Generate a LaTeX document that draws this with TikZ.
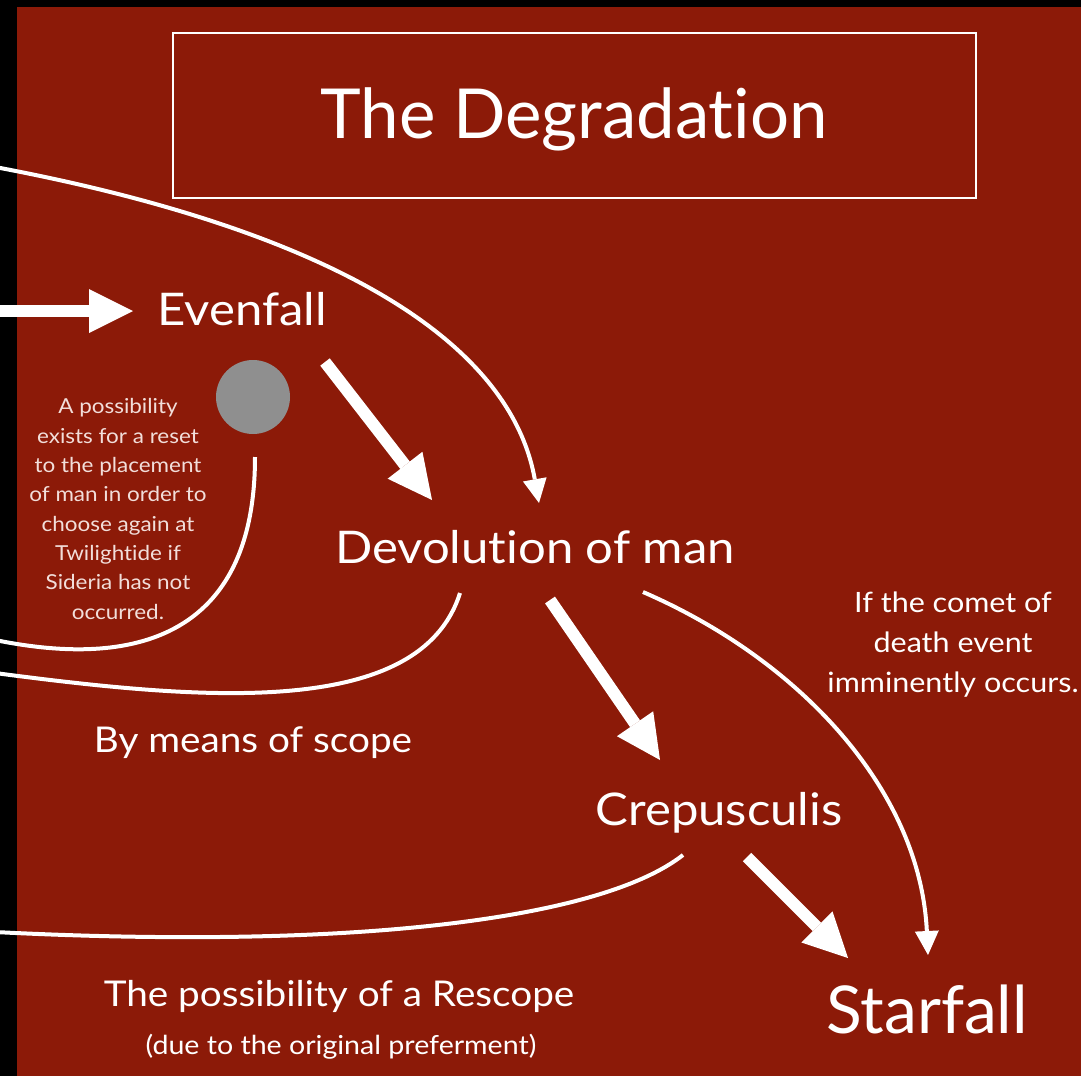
\documentclass[tikz,border=0pt]{standalone}
\usepackage{fontspec}
\setmainfont{Lato}[FakeStretch=1.09, Ligatures=NoCommon]
\newfontfamily\plainlato{Lato}[Ligatures=NoCommon]
\usetikzlibrary{arrows.meta}
\definecolor{bgred}{RGB}{140,26,8}
\definecolor{dotgray}{RGB}{143,143,143}
\definecolor{paletext}{RGB}{242,222,218}
\tikzset{
  lbl/.style={text=white, inner sep=0pt, anchor=base},
  thickarrow/.style={draw=white, line width=12pt, -{Triangle[length=44pt,width=44pt,line width=0pt]}},
  thinarrow/.style={draw=white, line width=4pt, -{Triangle[length=24pt,width=24pt,line width=0pt]}},
  thinline/.style={draw=white, line width=4pt},
}
\begin{document}
\begin{tikzpicture}[x=1pt,y=-1pt]
\useasboundingbox (0,0) rectangle (1081,1076);
\fill[black] (0,0) rectangle (1081,1076);
\fill[bgred] (17,7) rectangle (1081,1076);

% title
\node[draw=white, line width=2pt, minimum width=803pt, minimum height=165pt, inner sep=0pt] (titlebox) at (574.5,115.5) {};
\node[lbl, font=\plainlato\fontsize{69}{74}\selectfont] (title) at (574,138) {The Degradation};

% main nodes
\node[lbl, font=\fontsize{45}{50}\selectfont] (evenfall) at (242,325) {Evenfall};
\node[lbl, font=\fontsize{45}{50}\selectfont] (devolution) at (535,563) {Devolution of man};
\node[lbl, font=\fontsize{45}{50}\selectfont] (crep) at (719,825) {Crepusculis};
\node[lbl, font=\plainlato\fontsize{66}{70}\selectfont] (starfall) at (927,1033) {Starfall};

\node[lbl, font=\fontsize{35.5}{40}\selectfont] (scope) at (253,752) {By means of scope};
\node[lbl, font=\fontsize{35.5}{40}\selectfont] (rescope) at (339,1006) {The possibility of a Rescope};
\node[lbl, font=\fontsize{26.2}{30}\selectfont] (pref) at (341,1054) {(due to the original preferment)};

\node[text=white, inner sep=0pt, align=center, font=\fontsize{28}{40}\selectfont] (comet) at (953,645)
  {If the comet of\\ death event\\ imminently occurs.};

\node[text=paletext, inner sep=0pt, align=center, font=\fontsize{20.6}{29.3}\selectfont] (reset) at (118,509)
  {A possibility\\ exists for a reset\\ to the placement\\ of man in order to\\ choose again at\\ Twilightide if\\ Sideria has not\\ occurred.};

\node[circle, fill=dotgray, minimum size=74pt, inner sep=0pt] (dot) at (253,397) {};

% connector endpoints
\coordinate (inA) at (-10,311);
\coordinate (inB) at (133,311);
\coordinate (evA) at (325,362);
\coordinate (evB) at (432,500);
\coordinate (dvA) at (550,600);
\coordinate (dvB) at (660,760);
\coordinate (crA) at (747,857);
\coordinate (crB) at (848,958);
\coordinate (c1A) at (-5,167);
\coordinate (c1B) at (539,503);
\coordinate (c2A) at (255,457);
\coordinate (c2B) at (-5,640);
\coordinate (c3A) at (460,593);
\coordinate (c3B) at (-5,673);
\coordinate (c4A) at (643,592);
\coordinate (c4B) at (928,955);
\coordinate (c5A) at (683,855);
\coordinate (c5B) at (-5,932);

% thick arrows
\draw[thickarrow] (inA) -- (inB);
\draw[thickarrow] (evA) -- (evB);
\draw[thickarrow] (dvA) -- (dvB);
\draw[thickarrow] (crA) -- (crB);

% thin curves
\draw[thinarrow] (c1A) .. controls (330,230) and (510,340) .. (c1B);
\draw[thinline] (c2A) .. controls (255,680) and (70,655) .. (c2B);
\draw[thinline] (c3A) .. controls (420,720) and (200,700) .. (c3B);
\draw[thinarrow] (c4A) .. controls (800,660) and (920,790) .. (c4B);
\draw[thinline] (c5A) .. controls (600,920) and (350,950) .. (c5B);
\end{tikzpicture}
\end{document}
